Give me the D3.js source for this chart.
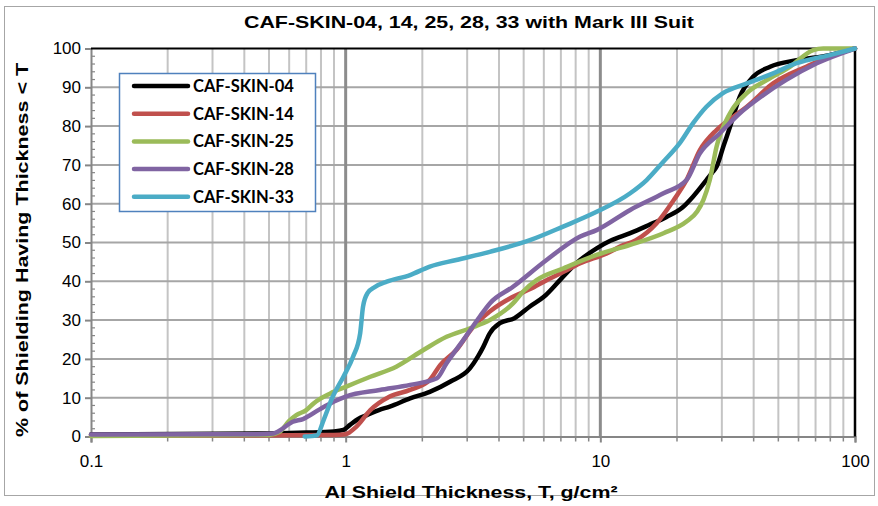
<!DOCTYPE html>
<html>
<head>
<meta charset="utf-8">
<script src="https://cdn.jsdelivr.net/npm/d3@7"></script>
<style>
  body { margin: 0; background: #fff; }
  text { font-family: "Liberation Sans", Arial, sans-serif; }
</style>
</head>
<body>
<div id="chart"></div>
<script>
// données : [épaisseur T (g/cm2), % cumulé]
var seriesNames = ["CAF-SKIN-04", "CAF-SKIN-14", "CAF-SKIN-25", "CAF-SKIN-28", "CAF-SKIN-33"];
var seriesColors = ["#000000", "#C0504D", "#9BBB59", "#8064A2", "#4BACC6"];

var skin04 = [[0.1,0.5],[0.5,0.8],[0.7,1.0],[0.9,1.3],[0.98,1.7],[1.04,3],[1.12,4.5],[1.21,5.5],[1.35,6.8],[1.49,7.7],[1.79,9.8],[2.14,11.5],[2.57,14.1],[3.08,17.6],[3.3,20.5],[3.47,23.1],[3.68,26.6],[4.03,29.2],[4.6,30.5],[5.29,33.5],[6.0,36],[6.94,40.3],[8.0,44.5],[9.67,48.5],[11,50.5],[13.1,52.4],[15.5,54.5],[18.2,56.6],[21,59],[23.1,61.8],[26.1,66.1],[27.5,68],[28.6,69.5],[30.5,75],[32.3,79.8],[35.3,87.6],[39.8,92.7],[46.4,95.3],[59,97],[79.5,98.3],[100,100]];
var skin14 = [[0.1,0.2],[0.6,0.3],[0.9,0.4],[1.0,0.6],[1.1,2.5],[1.25,6.8],[1.49,10.3],[1.79,12],[2.14,14.6],[2.35,18.4],[2.72,22.3],[3.17,28.3],[3.68,32.2],[4.54,36],[5.3,38],[6.15,40.3],[7.2,42.5],[8.3,44.6],[10.6,47.2],[12,49],[13.8,50.6],[16.6,54.9],[19.4,60.9],[21.8,66.1],[24.6,73.8],[28.6,79],[33.3,82.4],[37.6,85],[47.7,91],[64.3,95.3],[86,98.8],[100,100]];
var skin25 = [[0.1,0.1],[0.5,0.4],[0.55,1.2],[0.6,4],[0.64,5.5],[0.7,6.8],[0.75,8.6],[0.87,11.1],[1.0,12.8],[1.25,15.4],[1.58,18],[2.02,22.3],[2.49,25.7],[3.08,27.9],[3.68,30],[4.54,34.3],[5.0,37.5],[5.62,40.3],[7.14,43.3],[9.67,46.8],[13.1,49.4],[17.7,52.4],[21.8,55.4],[24,58],[25.4,61],[26.9,66.1],[28.6,74.7],[32.3,83.3],[37.6,88.5],[45.2,91.9],[55.5,95.3],[68.6,99.6],[75,100],[100,100]];
var skin28 = [[0.1,0.5],[0.45,0.6],[0.52,0.8],[0.54,1.2],[0.62,3.8],[0.68,4.5],[0.79,7],[0.9,9],[1.0,10.3],[1.36,12],[1.79,13.3],[2.28,15],[2.49,18.9],[2.9,24.9],[3.37,31],[3.68,34.3],[4.54,38.6],[6.15,45.5],[8.3,51.5],[9.67,53.2],[13.1,58.4],[17.7,62.7],[21.8,66.1],[24.6,73],[29.4,78.1],[35.3,83.3],[42.8,87.6],[53.7,91.9],[70.8,96.2],[100,100]];
var skin33 = [[0.69,0],[0.77,0.3],[0.82,4.3],[0.89,10.3],[0.98,15.4],[1.07,20.6],[1.14,26.6],[1.17,33.5],[1.22,37],[1.3,38.5],[1.45,39.9],[1.79,41.6],[2.14,43.8],[2.72,45.5],[3.68,47.6],[5.29,50.6],[7.14,54.1],[9.67,57.9],[13.1,62.7],[15.2,66.1],[17.5,70.5],[20.5,75.6],[23.1,80.7],[26.1,85],[30.3,88.5],[37.6,91],[47.7,93.6],[58.9,96.2],[79.5,98.3],[100,100]];
var allSeries = [skin04, skin14, skin25, skin28, skin33];

var xTicks = [0.1, 1, 10, 100];
var yTicks = [0, 10, 20, 30, 40, 50, 60, 70, 80, 90, 100];

var width = 878, height = 506;
var plot = {left: 91, right: 855, top: 48.5, bottom: 436.5};

var svg = d3.select("#chart").append("svg")
    .attr("width", width)
    .attr("height", height);

// cadre extérieur
svg.append("rect")
    .attr("x", 4.5).attr("y", 6.5)
    .attr("width", 870).attr("height", 489)
    .attr("fill", "#fff")
    .attr("stroke", "#a6a6a6")
    .attr("stroke-width", 1);

var x = d3.scaleLog().domain([0.1, 100]).range([plot.left, plot.right]);
var y = d3.scaleLinear().domain([0, 100]).range([plot.bottom, plot.top]);

// graduations mineures du log
var minor = [];
[0.1, 1, 10].forEach(function(d) {
    for (var k = 2; k <= 9; k++) minor.push(d * k);
});

// grille verticale mineure
svg.append("g").selectAll("line")
    .data(minor)
    .enter().append("line")
    .attr("x1", function(d) { return x(d); })
    .attr("x2", function(d) { return x(d); })
    .attr("y1", plot.top).attr("y2", plot.bottom)
    .attr("stroke", "#c4c4c4")
    .attr("stroke-width", 2);

// grille horizontale
svg.append("g").selectAll("line")
    .data(yTicks.slice(1, -1))
    .enter().append("line")
    .attr("x1", plot.left).attr("x2", plot.right)
    .attr("y1", function(d) { return y(d); })
    .attr("y2", function(d) { return y(d); })
    .attr("stroke", "#a6a6a6")
    .attr("stroke-width", 2);

// grille verticale majeure
svg.append("g").selectAll("line")
    .data([1, 10])
    .enter().append("line")
    .attr("x1", function(d) { return x(d); })
    .attr("x2", function(d) { return x(d); })
    .attr("y1", plot.top).attr("y2", plot.bottom)
    .attr("stroke", "#8c8c8c")
    .attr("stroke-width", 3);

// axe Y
var yAxis = svg.append("g")
    .attr("transform", "translate(" + plot.left + ",0)")
    .call(d3.axisLeft(y).tickValues(yTicks).tickSize(6).tickPadding(4));
yAxis.select(".domain").attr("stroke", "#868686").attr("stroke-width", 2);
yAxis.selectAll(".tick line").attr("stroke", "#868686").attr("stroke-width", 2);
yAxis.selectAll(".tick text")
    .attr("fill", "#000")
    .style("font-size", "17px")
    .style("font-family", "'Liberation Sans', Arial, sans-serif");

// petites graduations Y
svg.append("g").selectAll("line")
    .data(d3.range(2, 100, 2).filter(function(d) { return d % 10 != 0; }))
    .enter().append("line")
    .attr("x1", plot.left).attr("x2", plot.left + 4)
    .attr("y1", function(d) { return y(d); })
    .attr("y2", function(d) { return y(d); })
    .attr("stroke", "#868686")
    .attr("stroke-width", 1.2);

// axe X
var xAxis = svg.append("g")
    .attr("transform", "translate(0," + plot.bottom + ")")
    .call(d3.axisBottom(x).tickValues(xTicks).tickFormat(function(d) { return String(d); }).tickSize(6).tickPadding(12));
xAxis.select(".domain").attr("stroke", "#868686").attr("stroke-width", 2);
xAxis.selectAll(".tick line").attr("stroke", "#868686").attr("stroke-width", 2);
xAxis.selectAll(".tick text")
    .attr("fill", "#000")
    .style("font-size", "17px")
    .style("font-family", "'Liberation Sans', Arial, sans-serif");

svg.append("g").selectAll("line")
    .data(minor)
    .enter().append("line")
    .attr("x1", function(d) { return x(d); })
    .attr("x2", function(d) { return x(d); })
    .attr("y1", plot.bottom).attr("y2", plot.bottom + 5)
    .attr("stroke", "#868686")
    .attr("stroke-width", 1.5);

// bordure haute et droite en noir
svg.append("line")
    .attr("x1", plot.left).attr("x2", plot.right)
    .attr("y1", plot.top).attr("y2", plot.top)
    .attr("stroke", "#000").attr("stroke-width", 2);
svg.append("line")
    .attr("x1", plot.right).attr("x2", plot.right)
    .attr("y1", plot.top).attr("y2", plot.bottom)
    .attr("stroke", "#000").attr("stroke-width", 2.5);

// courbes
var line = d3.line()
    .x(function(d) { return x(d[0]); })
    .y(function(d) { return y(d[1]); })
    .curve(d3.curveMonotoneX);

svg.append("g").selectAll("path")
    .data(allSeries)
    .enter().append("path")
    .attr("d", line)
    .attr("fill", "none")
    .attr("stroke", function(d, i) { return seriesColors[i]; })
    .attr("stroke-width", 4.5)
    .attr("stroke-linejoin", "round")
    .attr("stroke-linecap", "round");

// légende
var legend = svg.append("g");
legend.append("rect")
    .attr("x", 119.5).attr("y", 73.5)
    .attr("width", 196).attr("height", 138)
    .attr("fill", "#fff")
    .attr("stroke", "#4F81BD")
    .attr("stroke-width", 1.5);

var items = legend.selectAll("g.item")
    .data(seriesNames)
    .enter().append("g")
    .attr("class", "item")
    .attr("transform", function(d, i) { return "translate(0," + (86 + i * 27.7) + ")"; });

items.append("line")
    .attr("x1", 134).attr("x2", 188)
    .attr("y1", 0).attr("y2", 0)
    .attr("stroke", function(d, i) { return seriesColors[i]; })
    .attr("stroke-width", 4.5)
    .attr("stroke-linecap", "round");

items.append("text")
    .attr("x", 193)
    .attr("dy", "0.36em")
    .style("font-family", "Lato, 'Open Sans', sans-serif")
    .style("font-weight", "bold")
    .style("font-size", "16.5px")
    .text(function(d) { return d; });

// titres
svg.append("text")
    .attr("x", 469).attr("y", 28)
    .attr("text-anchor", "middle")
    .attr("textLength", 450)
    .attr("lengthAdjust", "spacingAndGlyphs")
    .style("font-weight", "bold")
    .style("font-size", "17px")
    .text("CAF-SKIN-04, 14, 25, 28, 33 with Mark III Suit");

svg.append("text")
    .attr("x", 471).attr("y", 498)
    .attr("text-anchor", "middle")
    .attr("textLength", 293)
    .attr("lengthAdjust", "spacingAndGlyphs")
    .style("font-weight", "bold")
    .style("font-size", "17px")
    .text("Al Shield Thickness, T, g/cm\u00B2");

svg.append("text")
    .attr("transform", "translate(28,250) rotate(-90)")
    .attr("text-anchor", "middle")
    .attr("textLength", 374)
    .attr("lengthAdjust", "spacingAndGlyphs")
    .style("font-weight", "bold")
    .style("font-size", "17px")
    .text("% of Shielding Having Thickness < T");
</script>
</body>
</html>
